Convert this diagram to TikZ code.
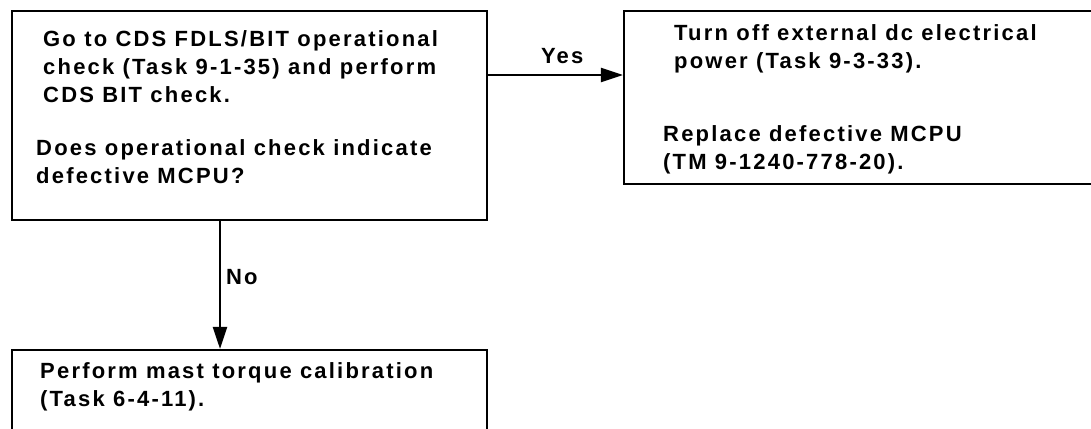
\documentclass[tikz,border=0pt]{standalone}
\usepackage{fontspec}
\setmainfont[LetterSpace=10]{Liberation Sans}
\usetikzlibrary{arrows.meta,positioning}
\tikzset{
  stepbox/.style={draw=black,line width=2.2pt,inner sep=0pt},
  para/.style={anchor=base west,align=left,inner sep=0pt,font=\bfseries\fontsize{22}{28}\selectfont},
  flow/.style={-{Triangle[length=22pt,width=14pt]},draw=black,line width=2.2pt},
  tag/.style={inner sep=0pt,font=\bfseries\fontsize{22}{28}\selectfont}
}
\begin{document}
\begin{tikzpicture}[x=1pt,y=-1pt]
  \useasboundingbox (0,0) rectangle (1091,428);
  \clip (0,0) rectangle (1091,428);
  % frames
  \node[stepbox,minimum width=475pt,minimum height=209pt] (check) at (249.5,115.5) {};
  \node[stepbox,minimum width=500pt,minimum height=173pt] (replace) at (874,97.5) {};
  \node[stepbox,minimum width=475pt,minimum height=150pt] (calib) at (249.5,425) {};
  % texts (placed by the baseline of their last line)
  \node[para] (checktxt) at (43,102) {Go to CDS FDLS/BIT operational\\check (Task 9-1-35) and perform\\CDS BIT check.};
  \node[para] (asktxt) at (36,183) {Does operational check indicate\\defective MCPU?};
  \node[para] (powertxt) at (674,68) {Turn off external dc electrical\\power (Task 9-3-33).};
  \node[para] (mcputxt) at (663,169) {Replace defective MCPU\\(TM 9-1240-778-20).};
  \node[para] (calibtxt) at (40,406) {Perform mast torque calibration\\(Task 6-4-11).};
  % connectors
  \coordinate (yesrow) at (0,75);
  \coordinate (nocol) at (220,0);
  \draw[flow] (check.east |- yesrow) -- node[tag,above=10pt,pos=.55] (yes) {Yes} (replace.west |- yesrow);
  \draw[flow] (check.south -| nocol) -- node[tag,right=5pt,pos=.44] (no) {No} (calib.north -| nocol);
\end{tikzpicture}
\end{document}
